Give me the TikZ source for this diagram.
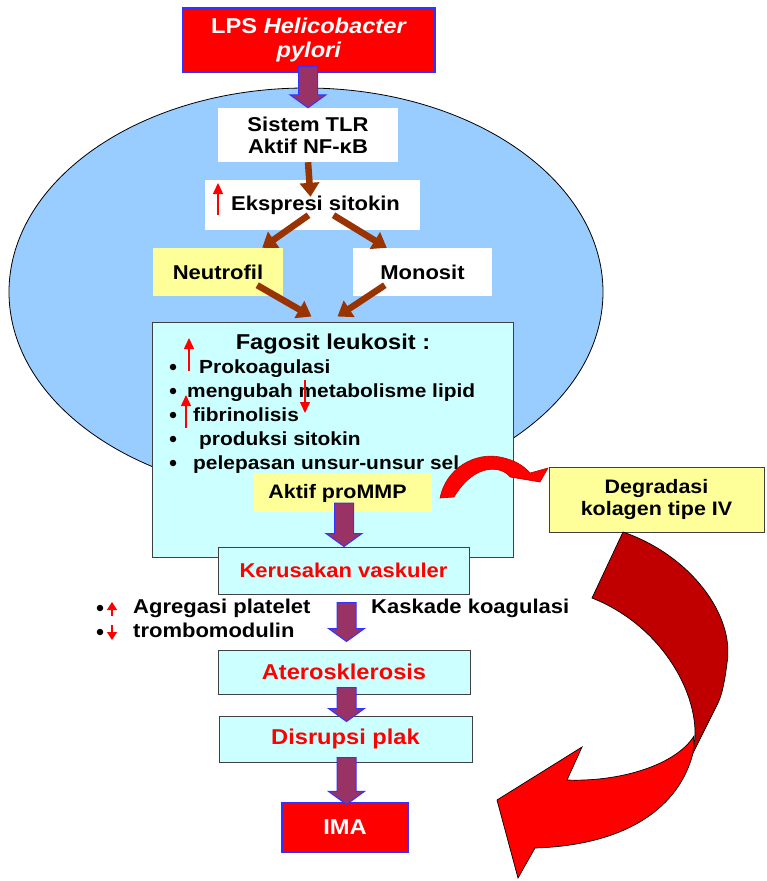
\documentclass[tikz,border=0pt]{standalone}
\usepackage{fontspec}
\setmainfont[FakeStretch=1.1]{Liberation Sans}
\usetikzlibrary{arrows.meta,calc}
\definecolor{bluebd}{HTML}{3333FF}
\definecolor{ellfill}{HTML}{99CCFF}
\definecolor{cyanfill}{HTML}{CCFFFF}
\definecolor{yelfill}{HTML}{FFFF99}
\definecolor{brownarr}{HTML}{993300}
\definecolor{purplearr}{HTML}{993366}
\definecolor{darkred}{HTML}{C00000}
\newcommand\fs[1]{\fontsize{#1pt}{\dimexpr #1pt*6/5\relax}\selectfont\bfseries}
\newcommand\fatarrow[2]{\draw[fatarr] let \p1=(#1), \p2=(#2) in
  (\x1-9.5pt,\y1) -- (\x1+9.5pt,\y1) -- (\x1+9.5pt,\y2+13pt) -- (\x1+18pt,\y2+13pt)
  -- (\x1,\y2) -- (\x1-18pt,\y2+13pt) -- (\x1-9.5pt,\y2+13pt) -- cycle;}
\begin{document}
\begin{tikzpicture}[x=1pt,y=-1pt,
  every node/.style={inner sep=0pt, font=\fs{20}},
  redbox/.style={rectangle, draw=bluebd, fill=red, line width=1.2pt, text=white},
  whitebox/.style={rectangle, fill=white},
  yellowbox/.style={rectangle, fill=yelfill},
  cyanbox/.style={rectangle, fill=cyanfill, draw=black!75, line width=1pt},
  degbox/.style={rectangle, fill=yelfill, draw=black!75, line width=1pt},
  listitem/.style={anchor=base west, font=\fs{19}},
  bulletdot/.style={circle, fill=black, minimum size=6.5pt},
  brownarrow/.style={draw=brownarr, line width=6.5pt, -{Triangle[width=19pt,length=14pt]}},
  smallred/.style={draw=red, line width=1.5pt, -{Triangle[width=10pt,length=11pt]}},
  tinyred/.style={draw=red, line width=1.5pt, -{Triangle[width=10pt,length=8pt]}},
  fatarr/.style={draw=bluebd, fill=purplearr, line width=1pt, line join=miter},
  redtxt/.style={text=red, font=\fs{21.5}},
]
\useasboundingbox (0,0) rectangle (767,881);
\fill[white] (0,0) rectangle (767,881);

% cell
\draw[fill=ellfill, draw=black, line width=0.8pt] (306,292) ellipse [x radius=297pt, y radius=204pt];

% boxes
\node[redbox, minimum width=252pt, minimum height=64pt, align=center, font=\fs{21.5}] (lps) at (309,40)
  {LPS \textit{Helicobacter}\\[-2pt] \textit{pylori}};
\node[whitebox, minimum width=180pt, minimum height=54pt, align=center] (tlr) at (308,135)
  {Sistem TLR\\[-2pt] Aktif NF-κB};
\node[whitebox, minimum width=215pt, minimum height=50pt] (eks) at (312.5,205) {\hspace{6pt}Ekspresi sitokin};
\node[yellowbox, minimum width=130pt, minimum height=48pt] (neu) at (218,272) {Neutrofil\hspace{10pt}};
\node[whitebox, minimum width=139pt, minimum height=48pt] (mon) at (422.5,272) {Monosit};
\node[cyanbox, minimum width=361pt, minimum height=235pt] (fag) at (332.5,439.5) {};
\node[anchor=base, font=\fs{21.5}] (fagt) at (333,349) {Fagosit leukosit :};
\foreach \n/\y in {1/367,2/391,3/415,4/439,5/463}
  \node[bulletdot] (b\n) at (173,\y) {};
\node[listitem] (i1) at (199,373) {Prokoagulasi};
\node[listitem] (i2) at (187,397) {mengubah metabolisme lipid};
\node[listitem] (i3) at (193,421) {fibrinolisis};
\node[listitem] (i4) at (199,445) {produksi sitokin};
\node[listitem] (i5) at (193,469) {pelepasan unsur-unsur sel};
\node[yellowbox, minimum width=179pt, minimum height=38pt, font=\fs{19.5}] (mmp) at (342.5,493) {\hspace{-10pt}Aktif proMMP};
\node[degbox, minimum width=215pt, minimum height=65pt, align=center, font=\fs{19.5}] (deg) at (656.5,499.5)
  {Degradasi\\[-2pt] kolagen tipe IV};
\node[cyanbox, minimum width=251pt, minimum height=47pt, redtxt, font=\fs{20}] (kv) at (343.5,570.5) {Kerusakan vaskuler};
\node[cyanbox, minimum width=252pt, minimum height=44pt, redtxt] (ath) at (344,672) {Aterosklerosis};
\node[cyanbox, minimum width=253pt, minimum height=46pt, redtxt] (dis) at (345.5,739) {Disrupsi plak};
\node[redbox, minimum width=126pt, minimum height=49pt, font=\fs{21.5}] (ima) at (345,827.5) {IMA};

% side texts
\node[bulletdot] (bl1) at (100,608) {};
\node[anchor=base west] (agr) at (133,613) {Agregasi platelet};
\node[bulletdot] (bl2) at (100,632) {};
\node[anchor=base west] (trm) at (133,637) {trombomodulin};
\node[anchor=base west] (kas) at (371,613) {Kaskade koagulasi};

% small red arrows
\draw[smallred] (218,215) -- (218,183);
\draw[smallred] (189,371) -- (189,338);
\draw[smallred] (186,428) -- (186,395);
\draw[smallred] (305,380) -- (305,413);
\draw[tinyred] (112,616) -- (112,602);
\draw[tinyred] (112,625) -- (112,640);

% brown arrows
\draw[brownarrow] (tlr.south) -- ($(eks.north)+(-2,17)$);
\draw[brownarrow] ($(eks.south)+(-4,-15)$) -- ($(neu.north east)+(-21,0)$);
\draw[brownarrow] ($(eks.south)+(21,-15)$) -- ($(mon.north west)+(34,0)$);
\draw[brownarrow] ($(neu.south east)+(-26,-11)$) -- ($(fag.north)+(-21,-5)$);
\draw[brownarrow] ($(mon.south west)+(32,-11)$) -- ($(fag.north)+(5,-5)$);

% fat arrows
\coordinate (f1s) at ($(lps.south)+(-1,-6)$);
\coordinate (f1e) at (tlr.north);
\fatarrow{f1s}{f1e}
\coordinate (f2s) at ($(mmp.south)+(1.5,-9)$);
\coordinate (f2e) at (kv.north);
\fatarrow{f2s}{f2e}
\coordinate (f3s) at ($(kv.south)+(3,8)$);
\coordinate (f3e) at ($(ath.north)+(0,-8)$);
\fatarrow{f3s}{f3e}
\coordinate (f4s) at ($(ath.south)+(2.5,-7)$);
\coordinate (f4e) at ($(dis.north)+(0,6)$);
\fatarrow{f4s}{f4e}
\coordinate (f5s) at ($(dis.south)+(1,-5)$);
\coordinate (f5e) at ($(ima.north)+(0,2)$);
\fatarrow{f5s}{f5e}

% small curved arrow to Degradasi
\draw[fill=red, draw=darkred, line width=0.6pt, line join=miter]
  (440,498) .. controls (446,468) and (475,452) .. (500,457)
  .. controls (515,460) and (524,466) .. (530,473)
  -- (548,468) -- (540,482) -- (510,477)
  .. controls (502,466) and (475,462) .. (454,497) -- cycle;

% big curved arrow
\draw[fill=darkred, draw=black, line width=0.7pt, line join=miter]
  (623,532) .. controls (690,555) and (735,615) .. (727,663)
  .. controls (725,680) and (722,695) .. (718,703) -- (693,753) -- (695,737)
  .. controls (697,690) and (660,625) .. (592,598) -- cycle;
\draw[fill=red, draw=black, line width=0.7pt, line join=miter]
  (694,736) -- (693,753) .. controls (680,805) and (630,845) .. (535,848)
  -- (518,878) -- (497,800) -- (582,747) -- (567,780)
  .. controls (620,782) and (676,765) .. (694,736) -- cycle;
\end{tikzpicture}
\end{document}
